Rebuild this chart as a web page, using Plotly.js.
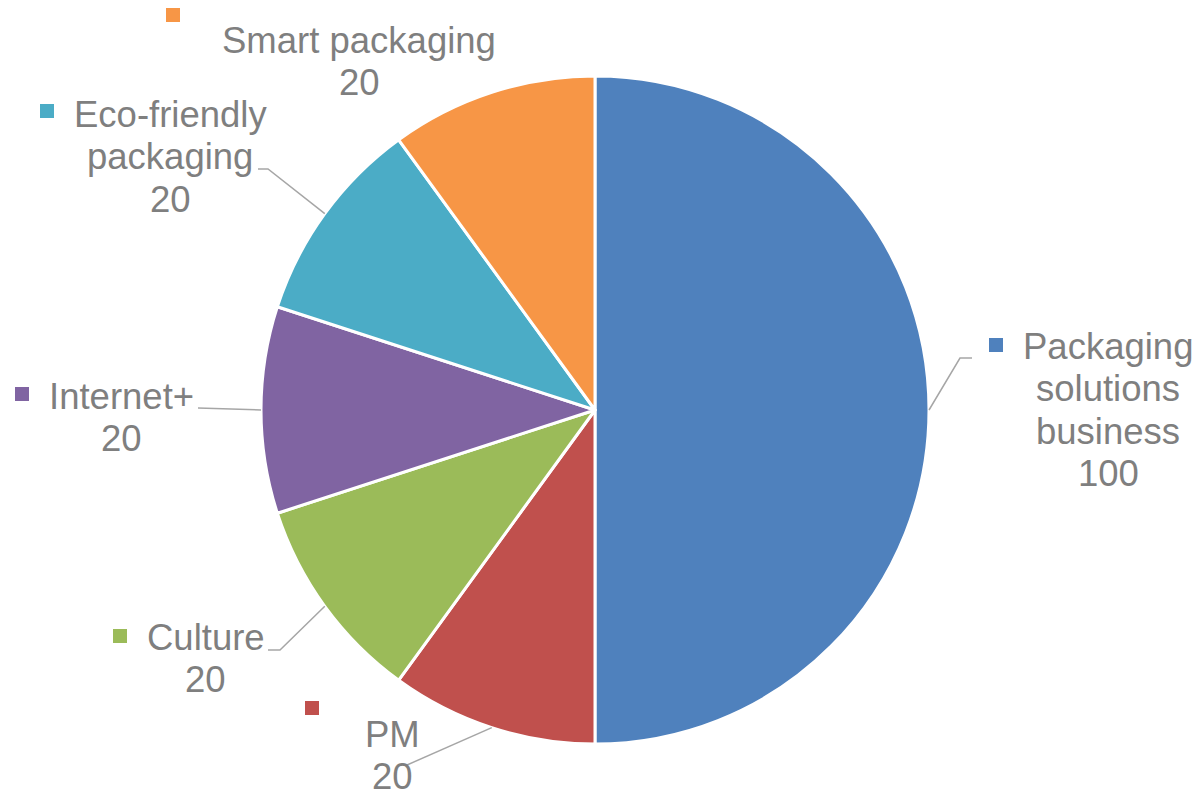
<!DOCTYPE html>
<html>
<head>
<meta charset="utf-8">
<script src="https://cdn.plot.ly/plotly-3.0.1.min.js"></script>
<style>html,body{margin:0;padding:0;background:#fff;}#chart{width:1202px;height:797px;}</style>
</head>
<body>
<div id="chart"></div>
<script>
// ---- data ----
const categories = ['Packaging solutions business', 'PM', 'Culture', 'Internet+', 'Eco-friendly packaging', 'Smart packaging'];
const values = [100, 20, 20, 20, 20, 20];
const colors = ['#4F81BD', '#C0504D', '#9BBB59', '#8064A2', '#4BACC6', '#F79646'];
// wrapped label lines (as shown in the chart)
const labelLines = [
  ['Packaging', 'solutions', 'business'],
  ['PM'],
  ['Culture'],
  ['Internet+'],
  ['Eco-friendly', 'packaging'],
  ['Smart packaging']
];

// ---- layout (pixels) ----
const W = 1202, H = 797;
const CX = 595, CY = 410, R = 334;
const FS = 36.5, LH = 42.5, KEY = 14;
const labelPos = [
  {tx: 1108, base: 359, key: [989, 338], leader: [[960, 358], [972, 358]]},
  {tx: 392, base: 747, key: [305, 701], leader: [[407, 765]]},
  {tx: 206, base: 650, key: [113, 629], leader: [[280, 650], [268, 650]]},
  {tx: 122, base: 409, key: [15, 387], leader: [[198, 408]]},
  {tx: 170, base: 127, key: [40, 104], leader: [[268, 169], [258, 169]]},
  {tx: 359, base: 53, key: [166, 8], leader: null}
];

const px = x => x / W;
const py = y => 1 - y / H;

const total = values.reduce((a, b) => a + b, 0);
const annotations = [];
const shapes = [];
let cum = 0;
values.forEach((v, i) => {
  const mid = (cum + v / 2) / total * 2 * Math.PI; // clockwise from 12 o'clock
  cum += v;
  const p = labelPos[i];
  const lines = labelLines[i].concat([String(v)]);
  lines.forEach((t, j) => {
    const baseline = p.base + j * LH;
    annotations.push({
      text: t, xref: 'paper', yref: 'paper',
      x: px(p.tx), y: py(baseline - 0.3465 * FS),
      xanchor: 'center', yanchor: 'middle', showarrow: false,
      font: {family: 'Liberation Sans, Arial, sans-serif', size: FS, color: '#7F7F7F'}
    });
  });
  shapes.push({
    type: 'rect', xref: 'paper', yref: 'paper',
    x0: px(p.key[0]), x1: px(p.key[0] + KEY), y0: py(p.key[1]), y1: py(p.key[1] + KEY),
    fillcolor: colors[i], line: {width: 0}
  });
  if (p.leader) {
    const sx = CX + R * Math.sin(mid), sy = CY - R * Math.cos(mid);
    let d = 'M ' + px(sx) + ',' + py(sy);
    p.leader.forEach(pt => { d += ' L ' + px(pt[0]) + ',' + py(pt[1]); });
    shapes.push({type: 'path', xref: 'paper', yref: 'paper', path: d,
      line: {color: '#A6A6A6', width: 1.5}});
  }
});

const trace = {
  type: 'pie',
  labels: categories,
  values: values,
  sort: false,
  direction: 'clockwise',
  rotation: 0,
  textinfo: 'none',
  hoverinfo: 'label+value',
  marker: {colors: colors, line: {color: '#FFFFFF', width: 3}},
  domain: {x: [px(CX - R), px(CX + R)], y: [py(CY + R), py(CY - R)]},
  showlegend: false
};

Plotly.newPlot('chart', [trace], {
  width: W, height: H,
  margin: {l: 0, r: 0, t: 0, b: 0, pad: 0},
  paper_bgcolor: '#FFFFFF',
  showlegend: false,
  annotations: annotations,
  shapes: shapes
}, {displayModeBar: false, staticPlot: true});
</script>
</body>
</html>
